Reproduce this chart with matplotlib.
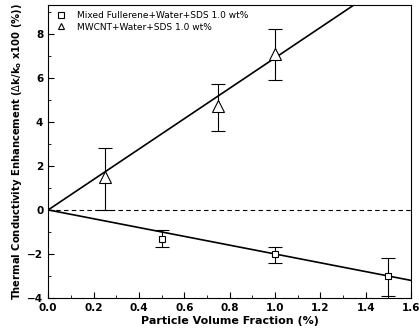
import numpy as np
import matplotlib.pyplot as plt
from matplotlib.ticker import MultipleLocator
from matplotlib.lines import Line2D

# MWCNT data (triangles)
cnt_x = [0.25, 0.75, 1.0]
cnt_y = [1.5, 4.7, 7.1]
cnt_lo = [1.5, 1.1, 1.2]
cnt_hi = [1.3, 1.0, 1.1]
cnt_slope = 6.9

# fullerene data (squares)
ful_x = [0.5, 1.0, 1.5]
ful_y = [-1.3, -2.0, -3.0]
ful_lo = [0.4, 0.4, 0.9]
ful_hi = [0.4, 0.3, 0.8]
ful_slope = -2.0

labels = ['Mixed Fullerene+Water+SDS 1.0 wt%', 'MWCNT+Water+SDS 1.0 wt%']

fig = plt.figure(figsize=(4.19, 3.36), dpi=100)
ax = fig.add_axes([0.115, 0.113, 0.866, 0.872])

xx = np.array([0.0, 1.6])
ax.plot(xx, ful_slope*xx, color='black', lw=1.2)
ax.plot(xx, cnt_slope*xx, color='black', lw=1.2)
ax.axhline(0, color='black', lw=0.8, ls=(0, (4, 3)))

ax.errorbar(ful_x, ful_y, yerr=[ful_lo, ful_hi], fmt='s', mfc='white', mec='black',
            ms=5, mew=0.8, ecolor='black', elinewidth=0.8, capsize=5, capthick=0.8)
ax.errorbar(cnt_x, cnt_y, yerr=[cnt_lo, cnt_hi], fmt='^', mfc='white', mec='black',
            ms=8, mew=0.8, ecolor='black', elinewidth=0.8, capsize=5, capthick=0.8)

ax.set_xlim(0, 1.6)
ax.set_ylim(-4, 9.3)
ax.xaxis.set_major_locator(MultipleLocator(0.2))
ax.xaxis.set_minor_locator(MultipleLocator(0.1))
ax.yaxis.set_minor_locator(MultipleLocator(1))
ax.set_yticks([-4, -2, 0, 2, 4, 6, 8])
ax.tick_params(direction='in', which='both', labelsize=7.5)
ax.tick_params(which='major', length=4)
ax.tick_params(which='minor', length=2)
for t in ax.get_xticklabels() + ax.get_yticklabels():
    t.set_fontweight('bold')

ax.set_xlabel('Particle Volume Fraction (%)', fontsize=8, fontweight='bold', labelpad=2)
ax.set_ylabel(r'Thermal Conductivity Enhancement ($\Delta$k/k$_\mathbf{o}$ x100 (%))',
              fontsize=7.2, fontweight='bold', labelpad=2)

handles = [Line2D([], [], ls='none', marker='s', ms=4, mfc='white', mec='black', mew=0.8),
           Line2D([], [], ls='none', marker='^', ms=5, mfc='white', mec='black', mew=0.8)]
ax.legend(handles, labels, loc='upper left', frameon=False, fontsize=6.5,
          handletextpad=1.0, borderaxespad=0.3, labelspacing=0.25, handlelength=1.5)

fig.savefig('out.png', dpi=100)
